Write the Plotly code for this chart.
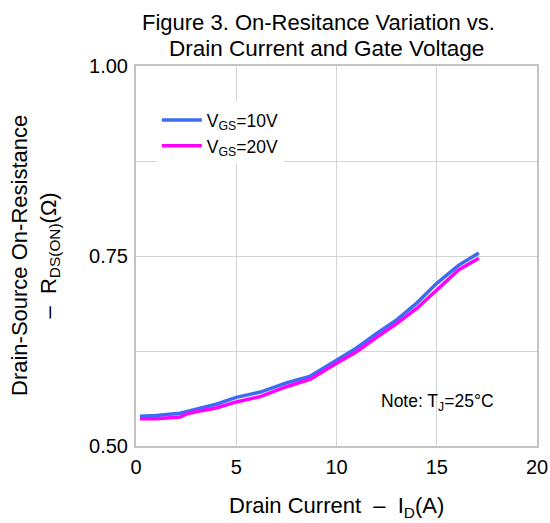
import plotly.graph_objects as go

# Data
x_10v = [0.2, 1.0, 2.2, 2.5, 3.0, 4.0, 5.0, 6.2, 7.5, 8.7, 10.0, 11.0, 12.0, 13.0, 14.0, 15.0, 16.1, 17.1]
r_10v = [0.539, 0.540, 0.543, 0.545, 0.549, 0.555, 0.564, 0.571, 0.583, 0.592, 0.613, 0.629, 0.648, 0.666, 0.688, 0.714, 0.738, 0.754]
x_20v = [0.2, 1.0, 2.2, 2.5, 3.0, 4.0, 5.0, 6.2, 7.5, 8.7, 10.0, 11.0, 12.0, 13.0, 14.0, 15.0, 16.1, 17.1]
r_20v = [0.536, 0.536, 0.538, 0.542, 0.545, 0.550, 0.558, 0.565, 0.578, 0.588, 0.609, 0.624, 0.643, 0.661, 0.681, 0.705, 0.732, 0.747]

y_tickvals = [0.5, 0.75, 1.0]
y_ticktext = ["0.50", "0.75", "1.00"]
y_minor_grid = [0.625, 0.875]
x_tickvals = [0, 5, 10, 15, 20]

FONT = "Liberation Sans, Arial, sans-serif"
GRID = "#d4d4d4"
FRAME = "#c4c4c4"

fig = go.Figure()
fig.add_trace(go.Scatter(x=x_10v, y=r_10v, mode="lines", name="V<sub>GS</sub>=10V",
                         line=dict(color="#3b6cf6", width=3.5)))
fig.add_trace(go.Scatter(x=x_20v, y=r_20v, mode="lines", name="V<sub>GS</sub>=20V",
                         line=dict(color="#ff00ff", width=3.5)))

fig.update_layout(
    width=550, height=523,
    margin=dict(l=136, r=13, t=66, b=77, autoexpand=False),
    paper_bgcolor="white", plot_bgcolor="white",
    font=dict(family=FONT, color="black", size=20),
    showlegend=True,
    legend=dict(x=0.052, y=0.905, xanchor="left", yanchor="top",
                bgcolor="white", font=dict(size=17.5, family=FONT),
                tracegroupgap=0, itemwidth=40),
    annotations=[
        dict(text="Figure 3. On-Resitance Variation vs.",
             xref="paper", yref="paper", x=0.456, y=1.0, xanchor="center", yanchor="middle",
             yshift=44, showarrow=False, font=dict(size=22, family=FONT)),
        dict(text="Drain Current and Gate Voltage",
             xref="paper", yref="paper", x=0.474, y=1.0, xanchor="center", yanchor="middle",
             yshift=18, showarrow=False, font=dict(size=22.5, family=FONT)),
        dict(text="Drain Current  \u2013  I<sub>D</sub>(A)",
             xref="paper", yref="paper", x=0.5, y=0, xanchor="center", yanchor="middle",
             yshift=-61, showarrow=False, font=dict(size=22, family=FONT)),
        dict(text="Drain-Source On-Resistance<br>\u2013  R<sub>DS(ON)</sub>(\u03a9)",
             xref="paper", yref="paper", x=0, y=0.5, xanchor="center", yanchor="middle",
             xshift=-101, textangle=-90, showarrow=False, font=dict(size=22, family=FONT)),
        dict(text="Note: T<sub>J</sub>=25\u00b0C",
             xref="x", yref="y", x=15.06, y=0.5566, xanchor="center", yanchor="middle",
             showarrow=False, font=dict(size=17.5, family=FONT)),
    ],
)

fig.update_xaxes(range=[0, 20], tickvals=x_tickvals, showgrid=True, gridcolor=GRID,
                 gridwidth=1, zeroline=False, showline=True, linecolor=FRAME, linewidth=2,
                 mirror=True, ticks="", ticklabelstandoff=2, tickfont=dict(size=20),
                 automargin=False)
fig.update_yaxes(range=[0.5, 1.0], tickvals=y_tickvals, ticktext=y_ticktext, showgrid=True,
                 gridcolor=GRID, gridwidth=1, zeroline=False, showline=True,
                 linecolor=FRAME, linewidth=2, mirror=True, ticks="",
                 minor=dict(tickvals=y_minor_grid, showgrid=True, gridcolor=GRID, gridwidth=1),
                 ticklabelstandoff=2, tickfont=dict(size=20), automargin=False)

# remove the default page margin so the 550x523 figure fills the window exactly
page_fix = ("document.body.style.margin='0';document.body.style.padding='0';"
            "document.documentElement.style.overflow='hidden';")

fig.write_html("out.html", post_script=page_fix, config={"displayModeBar": False})
